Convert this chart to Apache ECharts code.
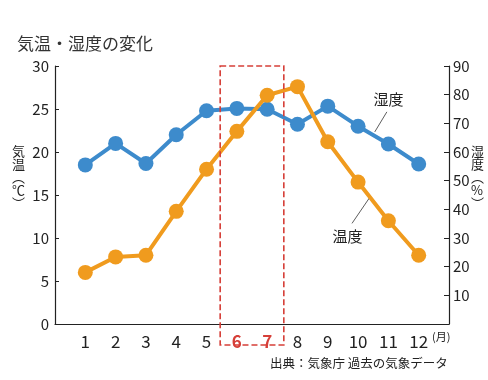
<!DOCTYPE html>
<html>
<head>
<meta charset="utf-8">
<script src="https://cdn.jsdelivr.net/npm/echarts@6/dist/echarts.min.js"></script>
<style>html,body{margin:0;padding:0;background:#fff;}#c{width:488px;height:380px;}</style>
</head>
<body>
<div id="c"></div>
<script>
const months = [1,2,3,4,5,6,7,8,9,10,11,12];
const temperature = [6.0, 7.8, 8.0, 13.1, 18.0, 22.4, 26.6, 27.6, 21.2, 16.5, 12.0, 8.0];
const humidity = [55.5, 63.0, 56.0, 66.0, 74.4, 75.2, 74.9, 69.7, 76.0, 69.0, 62.8, 55.8];
const highlightMonths = [6, 7];
const tempTicks = [0, 5, 10, 15, 20, 25, 30];
const humTicks = [10, 20, 30, 40, 50, 60, 70, 80, 90];

const FONT = '"Noto Sans CJK JP", "Noto Sans", sans-serif';
const BLUE = '#3d8bcc';
const ORANGE = '#f09b1e';
const RED = '#d63f38';

const chart = echarts.init(document.getElementById('c'), null, {renderer: 'canvas'});
const axisLineStyle = {show: true, lineStyle: {color: '#222', width: 1.2}};
chart.setOption({
  animation: false,
  textStyle: {fontFamily: FONT},
  title: {
    text: '気温・湿度の変化', left: 12, top: 30,
    textStyle: {fontFamily: FONT, fontSize: 17, fontWeight: 'normal', color: '#333'}
  },
  grid: {left: 55, right: 39, top: 66, bottom: 56},
  xAxis: {
    type: 'value', min: 0, max: months.length + 1, interval: 1,
    axisLine: {show: true, onZero: false, lineStyle: {color: '#222', width: 1.2}},
    axisTick: {show: false},
    splitLine: {show: false},
    axisLabel: {
      margin: 9, fontSize: 17, fontFamily: FONT, color: '#222',
      formatter: v => months.includes(v) ? (highlightMonths.includes(v) ? '{r|' + v + '}' : String(v)) : '',
      rich: {r: {color: RED, fontSize: 17, fontWeight: 'bold', fontFamily: FONT}}
    }
  },
  yAxis: [
    {
      type: 'value', min: 0, max: 30, interval: 5,
      axisLine: axisLineStyle,
      axisTick: {show: true, inside: true, length: 4, lineStyle: {color: '#222'}},
      splitLine: {show: false},
      axisLabel: {fontSize: 15, color: '#222', margin: 6, fontFamily: FONT,
        formatter: v => tempTicks.includes(v) ? String(v) : ''}
    },
    {
      type: 'value', min: 0, max: 90, interval: 10, position: 'right',
      axisLine: axisLineStyle,
      axisTick: {show: true, inside: true, length: 5, lineStyle: {color: '#222'}},
      splitLine: {show: false},
      axisLabel: {fontSize: 15, color: '#222', margin: 4, fontFamily: FONT,
        formatter: v => humTicks.includes(v) ? String(v) : ''}
    }
  ],
  series: [
    {
      name: '温度', type: 'line', yAxisIndex: 0, z: 3,
      data: months.map((m, i) => [m, temperature[i]]),
      symbol: 'circle', symbolSize: 15,
      lineStyle: {color: ORANGE, width: 4},
      itemStyle: {color: ORANGE}
    },
    {
      name: '湿度', type: 'line', yAxisIndex: 1, z: 2,
      data: months.map((m, i) => [m, humidity[i]]),
      symbol: 'circle', symbolSize: 15,
      lineStyle: {color: BLUE, width: 4},
      itemStyle: {color: BLUE}
    }
  ]
});

function px(x, y, yi) {
  return chart.convertToPixel({xAxisIndex: 0, yAxisIndex: yi}, [x, y]);
}
const h0 = Math.min(...highlightMonths) - 0.55;
const h1 = Math.max(...highlightMonths) + 0.55;
const pTop = px(h0, 30, 0);
const pBot = px(h1, 0, 0);
const gridBottom = pBot[1];

// label anchors in data coords
const humLabel = px(11.0, 78.5, 1);
const humLeadA = px(10.95, 74.0, 1);
const humLeadB = px(10.55, 67.0, 1);
const tmpLabel = px(9.65, 10.2, 0);
const tmpLeadA = px(9.8, 11.7, 0);
const tmpLeadB = px(10.4, 14.8, 0);

chart.setOption({
  graphic: [
    {
      type: 'rect', silent: true,
      shape: {x: pTop[0], y: pTop[1], width: pBot[0] - pTop[0], height: gridBottom + 21 - pTop[1]},
      style: {fill: 'none', stroke: RED, lineWidth: 1.6, lineDash: [6, 3]}, z: 10
    },
    {
      type: 'text', left: 12, top: 145,
      style: {text: '気\n温\n︵\n℃\n︶', font: '13px ' + FONT, fill: '#222', lineHeight: 13, align: 'center'}
    },
    {
      type: 'text', left: 471, top: 145,
      style: {text: '湿\n度\n︵\n%\n︶', font: '13px ' + FONT, fill: '#222', lineHeight: 13, align: 'center'}
    },
    {
      type: 'text', x: humLabel[0], y: humLabel[1],
      style: {text: '湿度', font: '15px ' + FONT, fill: '#222', align: 'center', verticalAlign: 'middle'}
    },
    {
      type: 'line', shape: {x1: humLeadA[0], y1: humLeadA[1], x2: humLeadB[0], y2: humLeadB[1]},
      style: {stroke: '#333', lineWidth: 0.8}
    },
    {
      type: 'text', x: tmpLabel[0], y: tmpLabel[1],
      style: {text: '温度', font: '15px ' + FONT, fill: '#222', align: 'center', verticalAlign: 'middle'}
    },
    {
      type: 'line', shape: {x1: tmpLeadA[0], y1: tmpLeadA[1], x2: tmpLeadB[0], y2: tmpLeadB[1]},
      style: {stroke: '#333', lineWidth: 0.8}
    },
    {
      type: 'text', left: 432, top: 331,
      style: {text: '(月)', font: '11px ' + FONT, fill: '#222'}
    },
    {
      type: 'text', left: 270, top: 357,
      style: {text: '出典：気象庁 過去の気象データ', font: '12.5px ' + FONT, fill: '#222'}
    }
  ]
});
</script>
</body>
</html>
